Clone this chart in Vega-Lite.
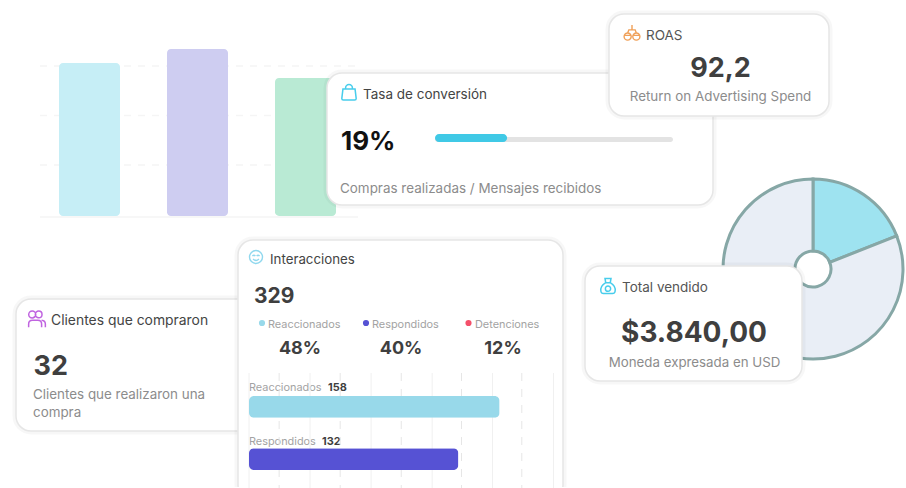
{"$schema":"https://vega.github.io/schema/vega-lite/v6.json","width":906,"height":488,"autosize":{"type":"fit","contains":"padding"},"padding":0,"background":"white","data":{"values":[{}]},
"config":{"axis":{"disable":true},"legend":{"disable":true},"view":{"stroke":null},"text":{"font":"Inter","align":"left","baseline":"middle"}},
"resolve":{"scale":{"x":"independent","y":"independent","color":"independent"}},
"layer":[
{"layer":[
{"mark":{"type":"rule","stroke":"#f5f5f5","strokeWidth":1.5,"strokeDash":[7,7]},"encoding":{"x":{"datum":40,"scale":{"domain":[0,906],"range":[0,906],"nice":false}},"x2":{"datum":358},"y":{"datum":66,"scale":{"domain":[0,488],"range":[0,488],"nice":false}}}},
{"mark":{"type":"rule","stroke":"#f5f5f5","strokeWidth":1.5,"strokeDash":[7,7]},"encoding":{"x":{"datum":40},"x2":{"datum":358},"y":{"datum":115.5}}},
{"mark":{"type":"rule","stroke":"#f5f5f5","strokeWidth":1.5,"strokeDash":[7,7]},"encoding":{"x":{"datum":40},"x2":{"datum":358},"y":{"datum":165}}},
{"mark":{"type":"rule","stroke":"#f5f5f5","strokeWidth":1.5},"encoding":{"x":{"datum":40},"x2":{"datum":358},"y":{"datum":217}}}
]},
{"data":{"values":[{"c":"A","v":153},{"c":"B","v":167},{"c":"C","v":138}]},"mark":{"type":"bar","cornerRadius":4},"encoding":{"x":{"field":"c","type":"nominal","scale":{"type":"band","domain":["A","B","C"],"range":[59,336],"paddingInner":0.435,"paddingOuter":0}},"y":{"field":"v","type":"quantitative","scale":{"domain":[0,167],"range":[216,49],"nice":false}},"color":{"field":"c","type":"nominal","scale":{"domain":["A","B","C"],"range":["#c6eef6","#cecdf1","#b9ead4"]}}}},
{"layer":[
{"mark":{"type":"rect","fill":"white","stroke":"#000","strokeOpacity":0.03,"strokeWidth":7,"cornerRadius":15},"encoding":{"x":{"datum":327,"scale":{"domain":[0,906],"range":[0,906],"nice":false}},"x2":{"datum":713},"y":{"datum":73,"scale":{"domain":[0,488],"range":[0,488],"nice":false}},"y2":{"datum":205}}},
{"mark":{"type":"rect","fill":"white","stroke":"#e6e6e6","strokeWidth":1.5,"cornerRadius":15},"encoding":{"x":{"datum":327},"x2":{"datum":713},"y":{"datum":73},"y2":{"datum":205}}},
{"mark":{"type":"point","filled":false,"stroke":"#48cdec","strokeWidth":1.5,"size":230,"opacity":1,"shape":"M-0.8,-0.45 L0.8,-0.45 L0.95,0.8 Q0.95,1 0.75,1 L-0.75,1 Q-0.95,1 -0.95,0.8 Z M-0.45,-0.45 L-0.45,-0.6 A0.45,0.45 0 0 1 0.45,-0.6 L0.45,-0.45"},"encoding":{"x":{"datum":349},"y":{"datum":92.5}}},
{"data":{"values":[{"t":"Tasa de conversión"}]},"mark":{"type":"text","fontSize":13.5,"fill":"#444"},"encoding":{"text":{"field":"t"},"x":{"datum":363},"y":{"datum":95}}},
{"data":{"values":[{"t":"19%"}]},"mark":{"type":"text","fontSize":26,"fontWeight":700,"fill":"#111"},"encoding":{"text":{"field":"t"},"x":{"datum":341},"y":{"datum":141.5}}},
{"mark":{"type":"rect","fill":"#e3e3e3","cornerRadius":3},"encoding":{"x":{"datum":435},"x2":{"datum":673},"y":{"datum":137},"y2":{"datum":142}}},
{"data":{"values":[{"t":"Compras realizadas / Mensajes recibidos"}]},"mark":{"type":"text","fontSize":13.45,"fill":"#8c8c8c"},"encoding":{"text":{"field":"t"},"x":{"datum":340},"y":{"datum":189}}},
{"mark":{"type":"rect","fill":"white","stroke":"#000","strokeOpacity":0.03,"strokeWidth":7,"cornerRadius":15},"encoding":{"x":{"datum":609},"x2":{"datum":829},"y":{"datum":14},"y2":{"datum":116}}},
{"mark":{"type":"rect","fill":"white","stroke":"#e6e6e6","strokeWidth":1.5,"cornerRadius":15},"encoding":{"x":{"datum":609},"x2":{"datum":829},"y":{"datum":14},"y2":{"datum":116}}},
{"mark":{"type":"point","filled":false,"stroke":"#f0a058","strokeWidth":1.4,"size":250,"opacity":1,"shape":"M-1,0.45 A0.45,0.45 0 1 0 -0.1,0.45 A0.45,0.45 0 1 0 -1,0.45 Z M0.1,0.45 A0.45,0.45 0 1 0 1,0.45 A0.45,0.45 0 1 0 0.1,0.45 Z M-0.95,0.3 L-0.15,0.3 M0.15,0.3 L0.95,0.3 M-0.55,0 L-0.4,-0.4 L0.4,-0.4 L0.55,0 M0,-0.4 L0,-1"},"encoding":{"x":{"datum":632},"y":{"datum":33}}},
{"data":{"values":[{"t":"ROAS"}]},"mark":{"type":"text","fontSize":13.5,"fill":"#555"},"encoding":{"text":{"field":"t"},"x":{"datum":646},"y":{"datum":35.5}}},
{"data":{"values":[{"t":"92,2"}]},"mark":{"type":"text","fontSize":27,"fontWeight":700,"fill":"#3f3f3f","align":"center"},"encoding":{"text":{"field":"t"},"x":{"datum":720.5},"y":{"datum":68.5}}},
{"data":{"values":[{"t":"Return on Advertising Spend"}]},"mark":{"type":"text","fontSize":13.4,"fill":"#8c8c8c","align":"center"},"encoding":{"text":{"field":"t"},"x":{"datum":720.5},"y":{"datum":97}}}
]},
{"data":{"values":[{"m":"Progreso","v":30.3}]},"mark":{"type":"rect","fill":"#40c9e6","cornerRadius":4},"encoding":{"x":{"field":"v","type":"quantitative","scale":{"domain":[0,100],"range":[435,673],"nice":false}},"x2":{"datum":0},"y":{"datum":134,"scale":{"domain":[0,488],"range":[0,488],"nice":false}},"y2":{"datum":142}}},
{"data":{"values":[{"s":"Cyan","v":19},{"s":"Gris","v":81}]},"mark":{"type":"arc","radius":90,"radius2":18,"stroke":"#86a7a6","strokeWidth":3},"encoding":{"theta":{"field":"v","type":"quantitative"},"color":{"field":"s","type":"nominal","scale":{"domain":["Cyan","Gris"],"range":["#9ee3f0","#e9eef6"]}},"x":{"datum":813,"scale":{"domain":[0,906],"range":[0,906],"nice":false}},"y":{"datum":269,"scale":{"domain":[0,488],"range":[0,488],"nice":false}}}},
{"layer":[
{"mark":{"type":"rect","fill":"white","stroke":"#000","strokeOpacity":0.03,"strokeWidth":7,"cornerRadius":15},"encoding":{"x":{"datum":585,"scale":{"domain":[0,906],"range":[0,906],"nice":false}},"x2":{"datum":802},"y":{"datum":266,"scale":{"domain":[0,488],"range":[0,488],"nice":false}},"y2":{"datum":381}}},
{"mark":{"type":"rect","fill":"white","stroke":"#e6e6e6","strokeWidth":1.5,"cornerRadius":15},"encoding":{"x":{"datum":585},"x2":{"datum":802},"y":{"datum":266},"y2":{"datum":381}}},
{"mark":{"type":"point","filled":false,"stroke":"#48cdec","strokeWidth":1.5,"size":225,"opacity":1,"shape":"M-0.4,-1 L0.4,-1 L0.3,-0.45 L-0.3,-0.45 Z M-0.3,-0.45 C-0.9,-0.1 -1,0.4 -0.95,0.7 Q-0.9,1 -0.6,1 L0.6,1 Q0.9,1 0.95,0.7 C1,0.4 0.9,-0.1 0.3,-0.45 M0,0 A0.35,0.35 0 1 0 0,0.7 A0.35,0.35 0 1 0 0,0"},"encoding":{"x":{"datum":608},"y":{"datum":286}}},
{"data":{"values":[{"t":"Total vendido"}]},"mark":{"type":"text","fontSize":13.5,"fill":"#555"},"encoding":{"text":{"field":"t"},"x":{"datum":622},"y":{"datum":288}}},
{"data":{"values":[{"t":"$3.840,00"}]},"mark":{"type":"text","fontSize":28,"fontWeight":700,"fill":"#3f3f3f","align":"center"},"encoding":{"text":{"field":"t"},"x":{"datum":694},"y":{"datum":333.5}}},
{"data":{"values":[{"t":"Moneda expresada en USD"}]},"mark":{"type":"text","fontSize":13.3,"fill":"#8c8c8c","align":"center"},"encoding":{"text":{"field":"t"},"x":{"datum":694.5},"y":{"datum":362.5}}},
{"mark":{"type":"rect","fill":"white","stroke":"#000","strokeOpacity":0.03,"strokeWidth":7,"cornerRadius":15},"encoding":{"x":{"datum":16},"x2":{"datum":262},"y":{"datum":299},"y2":{"datum":431}}},
{"mark":{"type":"rect","fill":"white","stroke":"#e6e6e6","strokeWidth":1.5,"cornerRadius":15},"encoding":{"x":{"datum":16},"x2":{"datum":262},"y":{"datum":299},"y2":{"datum":431}}},
{"mark":{"type":"point","filled":false,"stroke":"#c064e0","strokeWidth":1.5,"size":280,"opacity":1,"shape":"M-0.15,-0.55 A0.42,0.42 0 1 0 -0.99,-0.55 A0.42,0.42 0 1 0 -0.15,-0.55 Z M0.6,-0.55 A0.4,0.4 0 1 0 -0.2,-0.55 A0.4,0.4 0 1 0 0.6,-0.55 Z M-1,1 L-1,0.6 Q-1,0.15 -0.55,0.15 L0.1,0.15 Q0.55,0.15 0.55,0.6 L0.55,1 M0.55,0.15 Q1,0.2 1,0.6 L1,1"},"encoding":{"x":{"datum":37},"y":{"datum":319}}},
{"data":{"values":[{"t":"Clientes que compraron"}]},"mark":{"type":"text","fontSize":13.9,"fill":"#444"},"encoding":{"text":{"field":"t"},"x":{"datum":51},"y":{"datum":321}}},
{"data":{"values":[{"t":"32"}]},"mark":{"type":"text","fontSize":27,"fontWeight":700,"fill":"#3f3f3f"},"encoding":{"text":{"field":"t"},"x":{"datum":33.5},"y":{"datum":366.5}}},
{"data":{"values":[{"t":"Clientes que realizaron una"}]},"mark":{"type":"text","fontSize":13.4,"fill":"#8c8c8c"},"encoding":{"text":{"field":"t"},"x":{"datum":33},"y":{"datum":395}}},
{"data":{"values":[{"t":"compra"}]},"mark":{"type":"text","fontSize":13.4,"fill":"#8c8c8c"},"encoding":{"text":{"field":"t"},"x":{"datum":33},"y":{"datum":413}}},
{"mark":{"type":"rect","fill":"white","stroke":"#000","strokeOpacity":0.03,"strokeWidth":7,"cornerRadius":15,"clip":true},"encoding":{"x":{"datum":238},"x2":{"datum":563},"y":{"datum":240},"y2":{"datum":500}}},
{"mark":{"type":"rect","fill":"white","stroke":"#e6e6e6","strokeWidth":1.5,"cornerRadius":15,"clip":true},"encoding":{"x":{"datum":238},"x2":{"datum":563},"y":{"datum":240},"y2":{"datum":500}}},
{"mark":{"type":"point","filled":false,"stroke":"#90d8ee","strokeWidth":1.4,"size":170,"opacity":1,"shape":"M1,0 A1,1 0 1 0 -1,0 A1,1 0 1 0 1,0 Z M-0.55,-0.15 Q-0.3,-0.4 -0.1,-0.15 M0.1,-0.15 Q0.3,-0.4 0.55,-0.15 M-0.45,0.3 Q0,0.75 0.45,0.3"},"encoding":{"x":{"datum":256},"y":{"datum":257}}},
{"data":{"values":[{"t":"Interacciones"}]},"mark":{"type":"text","fontSize":13.3,"fill":"#444"},"encoding":{"text":{"field":"t"},"x":{"datum":270},"y":{"datum":259.5}}},
{"data":{"values":[{"t":"329"}]},"mark":{"type":"text","fontSize":21,"fontWeight":700,"fill":"#3f3f3f"},"encoding":{"text":{"field":"t"},"x":{"datum":254},"y":{"datum":296.5}}},
{"mark":{"type":"point","filled":true,"fill":"#98d9ea","size":38,"opacity":1,"shape":"circle"},"encoding":{"x":{"datum":262},"y":{"datum":323}}},
{"mark":{"type":"point","filled":true,"fill":"#5652d4","size":38,"opacity":1,"shape":"circle"},"encoding":{"x":{"datum":366},"y":{"datum":323}}},
{"mark":{"type":"point","filled":true,"fill":"#f4506a","size":38,"opacity":1,"shape":"circle"},"encoding":{"x":{"datum":468.5},"y":{"datum":323}}},
{"data":{"values":[{"t":"Reaccionados"}]},"mark":{"type":"text","fontSize":10.9,"fill":"#a3a3a3"},"encoding":{"text":{"field":"t"},"x":{"datum":268},"y":{"datum":324.5}}},
{"data":{"values":[{"t":"Respondidos"}]},"mark":{"type":"text","fontSize":10.9,"fill":"#a3a3a3"},"encoding":{"text":{"field":"t"},"x":{"datum":372},"y":{"datum":324.5}}},
{"data":{"values":[{"t":"Detenciones"}]},"mark":{"type":"text","fontSize":10.9,"fill":"#a3a3a3"},"encoding":{"text":{"field":"t"},"x":{"datum":475},"y":{"datum":324.5}}},
{"data":{"values":[{"t":"48%"}]},"mark":{"type":"text","fontSize":18,"fontWeight":700,"fill":"#3f3f3f","align":"center"},"encoding":{"text":{"field":"t"},"x":{"datum":300},"y":{"datum":349}}},
{"data":{"values":[{"t":"40%"}]},"mark":{"type":"text","fontSize":18,"fontWeight":700,"fill":"#3f3f3f","align":"center"},"encoding":{"text":{"field":"t"},"x":{"datum":401},"y":{"datum":349}}},
{"data":{"values":[{"t":"12%"}]},"mark":{"type":"text","fontSize":18,"fontWeight":700,"fill":"#3f3f3f","align":"center"},"encoding":{"text":{"field":"t"},"x":{"datum":503},"y":{"datum":349}}},
{"data":{"values":[{"t":"Reaccionados"}]},"mark":{"type":"text","fontSize":10.9,"fill":"#a3a3a3"},"encoding":{"text":{"field":"t"},"x":{"datum":249},"y":{"datum":387.5}}},
{"data":{"values":[{"t":"158"}]},"mark":{"type":"text","fontSize":10.9,"fontWeight":700,"fill":"#3f3f3f"},"encoding":{"text":{"field":"t"},"x":{"datum":328},"y":{"datum":387.5}}},
{"data":{"values":[{"t":"Respondidos"}]},"mark":{"type":"text","fontSize":10.9,"fill":"#a3a3a3"},"encoding":{"text":{"field":"t"},"x":{"datum":249},"y":{"datum":441.5}}},
{"data":{"values":[{"t":"132"}]},"mark":{"type":"text","fontSize":10.9,"fontWeight":700,"fill":"#3f3f3f"},"encoding":{"text":{"field":"t"},"x":{"datum":322},"y":{"datum":441.5}}}
]},
{"layer":[
{"data":{"values":[{"g":0},{"g":38.5},{"g":77},{"g":115.5},{"g":153.5},{"g":192}]},"mark":{"type":"rule","stroke":"#f0f0f0","strokeWidth":1},"encoding":{"x":{"field":"g","type":"quantitative","scale":{"domain":[0,157],"range":[249,498],"nice":false}},"y":{"datum":373,"scale":{"domain":[0,488],"range":[0,488],"nice":false}},"y2":{"datum":488}}},
{"data":{"values":[{"g":19},{"g":57.5},{"g":96},{"g":134},{"g":172}]},"mark":{"type":"rule","stroke":"#e6e6e6","strokeWidth":1,"strokeDash":[8,8]},"encoding":{"x":{"field":"g","type":"quantitative"},"y":{"datum":373},"y2":{"datum":488}}}
]},
{"data":{"values":[{"n":"Reaccionados","v":158},{"n":"Respondidos","v":132}]},"mark":{"type":"bar","cornerRadius":5},"encoding":{"x":{"field":"v","type":"quantitative","scale":{"domain":[0,157],"range":[249,498],"nice":false}},"y":{"field":"n","type":"nominal","scale":{"type":"band","domain":["Reaccionados","Respondidos"],"range":[396,470],"paddingInner":0.587,"paddingOuter":0}},"color":{"field":"n","type":"nominal","scale":{"domain":["Reaccionados","Respondidos"],"range":["#98d9ea","#5652d4"]}}}}
]}
